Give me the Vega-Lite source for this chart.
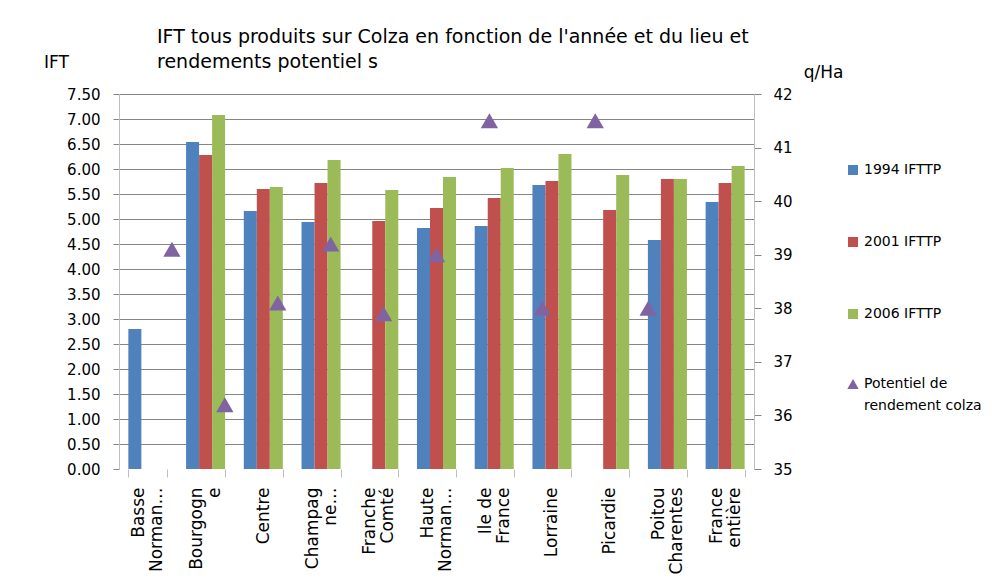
{
  "$schema": "https://vega.github.io/schema/vega-lite/v6.json",
  "autosize": {"type": "none"},
  "width": 635,
  "height": 375,
  "padding": {"left": 119, "top": 94, "right": 248, "bottom": 119},
  "background": "white",
  "config": {
    "font": "DejaVu Sans",
    "view": {"stroke": null},
    "axis": {"labelColor": "#000000", "titleColor": "#000000", "titleFontWeight": "normal"},
    "legend": {"labelColor": "#000000"},
    "style": {"guide-label": {"lineHeight": 22}}
  },
  "title": {
    "text": ["IFT  tous produits  sur Colza en fonction de l'année et du lieu et", "rendements potentiel s"],
    "anchor": "start",
    "frame": "group",
    "dx": 38,
    "dy": 43,
    "offset": 24,
    "fontSize": 19,
    "fontWeight": "normal",
    "lineHeight": 25,
    "color": "#000000"
  },
  "datasets": {
    "ift": [
      {"region": "Basse Normandie", "series": "1994 IFTTP", "value": 2.80},
      {"region": "Bourgogne", "series": "1994 IFTTP", "value": 6.54},
      {"region": "Bourgogne", "series": "2001 IFTTP", "value": 6.28},
      {"region": "Bourgogne", "series": "2006 IFTTP", "value": 7.08},
      {"region": "Centre", "series": "1994 IFTTP", "value": 5.16},
      {"region": "Centre", "series": "2001 IFTTP", "value": 5.60},
      {"region": "Centre", "series": "2006 IFTTP", "value": 5.64},
      {"region": "Champagne", "series": "1994 IFTTP", "value": 4.94},
      {"region": "Champagne", "series": "2001 IFTTP", "value": 5.72},
      {"region": "Champagne", "series": "2006 IFTTP", "value": 6.18},
      {"region": "Franche Comté", "series": "2001 IFTTP", "value": 4.96},
      {"region": "Franche Comté", "series": "2006 IFTTP", "value": 5.58},
      {"region": "Haute Normandie", "series": "1994 IFTTP", "value": 4.82},
      {"region": "Haute Normandie", "series": "2001 IFTTP", "value": 5.22},
      {"region": "Haute Normandie", "series": "2006 IFTTP", "value": 5.84},
      {"region": "Ile de France", "series": "1994 IFTTP", "value": 4.86},
      {"region": "Ile de France", "series": "2001 IFTTP", "value": 5.42},
      {"region": "Ile de France", "series": "2006 IFTTP", "value": 6.02},
      {"region": "Lorraine", "series": "1994 IFTTP", "value": 5.68},
      {"region": "Lorraine", "series": "2001 IFTTP", "value": 5.76},
      {"region": "Lorraine", "series": "2006 IFTTP", "value": 6.30},
      {"region": "Picardie", "series": "2001 IFTTP", "value": 5.18},
      {"region": "Picardie", "series": "2006 IFTTP", "value": 5.88},
      {"region": "Poitou Charentes", "series": "1994 IFTTP", "value": 4.58},
      {"region": "Poitou Charentes", "series": "2001 IFTTP", "value": 5.80},
      {"region": "Poitou Charentes", "series": "2006 IFTTP", "value": 5.80},
      {"region": "France entière", "series": "1994 IFTTP", "value": 5.34},
      {"region": "France entière", "series": "2001 IFTTP", "value": 5.72},
      {"region": "France entière", "series": "2006 IFTTP", "value": 6.06}
    ],
    "potentiel": [
      {"region": "Basse Normandie", "serie": "Potentiel de rendement colza", "rendement": 39.1},
      {"region": "Bourgogne", "serie": "Potentiel de rendement colza", "rendement": 36.2},
      {"region": "Centre", "serie": "Potentiel de rendement colza", "rendement": 38.1},
      {"region": "Champagne", "serie": "Potentiel de rendement colza", "rendement": 39.2},
      {"region": "Franche Comté", "serie": "Potentiel de rendement colza", "rendement": 37.9},
      {"region": "Haute Normandie", "serie": "Potentiel de rendement colza", "rendement": 39.0},
      {"region": "Ile de France", "serie": "Potentiel de rendement colza", "rendement": 41.5},
      {"region": "Lorraine", "serie": "Potentiel de rendement colza", "rendement": 38.0},
      {"region": "Picardie", "serie": "Potentiel de rendement colza", "rendement": 41.5},
      {"region": "Poitou Charentes", "serie": "Potentiel de rendement colza", "rendement": 38.0}
    ]
  },
  "layer": [
    {
      "data": {"name": "ift"},
      "mark": {"type": "bar"},
      "encoding": {
        "x": {
          "field": "region",
          "type": "nominal",
          "sort": null,
          "scale": {
            "domain": ["Basse Normandie", "Bourgogne", "Centre", "Champagne", "Franche Comté", "Haute Normandie", "Ile de France", "Lorraine", "Picardie", "Poitou Charentes", "France entière"],
            "paddingInner": 0.324,
            "paddingOuter": 0.162
          },
          "axis": {
            "title": null,
            "orient": "bottom",
            "domain": false,
            "ticks": true,
            "tickBand": "extent",
            "tickSize": 8,
            "tickColor": "#BFBFBF",
            "labelAngle": -90,
            "labelPadding": 10,
            "labelFontSize": 17,
            "labelLineHeight": 18,
            "labelLimit": 300,
            "labelOverlap": false,
            "labelOffset": {"condition": {"test": "indexof(['Centre', 'Lorraine', 'Picardie'], datum.value) >= 0", "value": 0}, "value": -9},
            "labelExpr": "({'Basse Normandie': ['Basse', 'Norman…'], 'Bourgogne': ['Bourgogn', 'e'], 'Centre': 'Centre', 'Champagne': ['Champag', 'ne…'], 'Franche Comté': ['Franche', 'Comté'], 'Haute Normandie': ['Haute', 'Norman…'], 'Ile de France': ['Ile de', 'France'], 'Lorraine': 'Lorraine', 'Picardie': 'Picardie', 'Poitou Charentes': ['Poitou', 'Charentes'], 'France entière': ['France', 'entière']})[datum.value]"
          }
        },
        "xOffset": {
          "field": "series",
          "type": "nominal",
          "scale": {"domain": ["1994 IFTTP", "2001 IFTTP", "2006 IFTTP"], "paddingInner": 0, "paddingOuter": 0}
        },
        "y": {
          "field": "value",
          "type": "quantitative",
          "scale": {"domain": [0, 7.5], "nice": false, "zero": true},
          "axis": {
            "title": "IFT",
            "titleAngle": 0,
            "titleX": -63,
            "titleY": -32,
            "titleAlign": "center",
            "titleBaseline": "middle",
            "titleFontSize": 17,
            "values": [0, 0.5, 1, 1.5, 2, 2.5, 3, 3.5, 4, 4.5, 5, 5.5, 6, 6.5, 7, 7.5],
            "format": ".2f",
            "labelFontSize": 15,
            "labelPadding": 13,
            "tickSize": 6,
            "tickColor": "#868686",
            "domainColor": "#BFBFBF",
            "grid": true,
            "gridColor": {"condition": {"test": "datum.value === 0", "value": "transparent"}, "value": "#868686"},
            "gridWidth": 1
          }
        },
        "color": {
          "field": "series",
          "type": "nominal",
          "scale": {"domain": ["1994 IFTTP", "2001 IFTTP", "2006 IFTTP"], "range": ["#4F81BD", "#C0504D", "#9BBB59"]},
          "legend": {
            "title": null,
            "orient": "none",
            "legendX": 727,
            "legendY": 69,
            "symbolType": "square",
            "symbolSize": 100,
            "symbolStrokeWidth": 0,
            "labelFontSize": 14,
            "labelOffset": 4,
            "rowPadding": 58,
            "padding": 0
          }
        }
      }
    },
    {
      "data": {"name": "potentiel"},
      "mark": {"type": "point", "filled": true, "shape": "triangle-up", "size": 300, "opacity": 1},
      "encoding": {
        "x": {
          "field": "region",
          "type": "nominal",
          "sort": null,
          "scale": {
            "type": "point",
            "padding": 1,
            "domain": ["Basse Normandie", "Bourgogne", "Centre", "Champagne", "Franche Comté", "Haute Normandie", "Ile de France", "Lorraine", "Picardie", "Poitou Charentes", "France entière"]
          },
          "axis": null
        },
        "y": {
          "field": "rendement",
          "type": "quantitative",
          "scale": {"domain": [35, 42], "nice": false, "zero": false},
          "axis": {
            "orient": "right",
            "title": "q/Ha",
            "titleAngle": 0,
            "titleX": 69,
            "titleY": -22,
            "titleAlign": "center",
            "titleBaseline": "middle",
            "titleFontSize": 17,
            "values": [35, 36, 37, 38, 39, 40, 41, 42],
            "format": "d",
            "labelFontSize": 15,
            "labelPadding": 12,
            "tickSize": 7,
            "tickColor": "#868686",
            "domainColor": "#BFBFBF",
            "grid": false
          }
        },
        "color": {
          "field": "serie",
          "type": "nominal",
          "scale": {"domain": ["Potentiel de rendement colza"], "range": ["#8064A2"]},
          "legend": {
            "title": null,
            "orient": "none",
            "legendX": 727,
            "legendY": 283,
            "symbolType": "triangle-up",
            "symbolSize": 130,
            "symbolStrokeWidth": 0,
            "labelFontSize": 14,
            "labelOffset": 4,
            "labelBaseline": "middle",
            "labelExpr": "['Potentiel de', 'rendement colza']",
            "padding": 0
          }
        }
      }
    }
  ],
  "resolve": {
    "scale": {"x": "independent", "y": "independent", "color": "independent", "xOffset": "independent"},
    "axis": {"x": "independent", "y": "independent"},
    "legend": {"color": "independent"}
  }
}
